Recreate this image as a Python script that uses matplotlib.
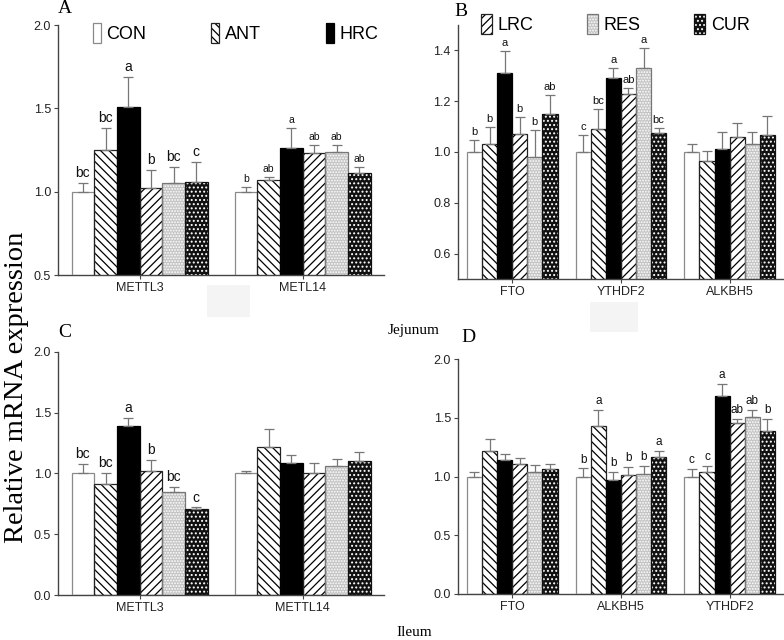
import matplotlib.pyplot as plt
import matplotlib.patches as mpatches
import numpy as np

plt.rcParams['font.family'] = ['Liberation Sans', 'DejaVu Sans']
plt.rcParams['hatch.linewidth'] = 0.9

#----データ----
groups = ['CON', 'ANT', 'HRC', 'LRC', 'RES', 'CUR']

a_genes = ['METTL3', 'METL14']
a_mean = [[1.00, 1.25, 1.51, 1.02, 1.05, 1.06],
          [1.00, 1.07, 1.26, 1.23, 1.24, 1.11]]
a_top = [[1.05, 1.38, 1.69, 1.13, 1.15, 1.18],
         [1.03, 1.09, 1.38, 1.28, 1.28, 1.15]]
a_sig = [['bc', 'bc', 'a', 'b', 'bc', 'c'],
         ['b', 'ab', 'a', 'ab', 'ab', 'ab']]

b_genes = ['FTO', 'YTHDF2', 'ALKBH5']
b_mean = [[1.00, 1.03, 1.31, 1.07, 0.98, 1.15],
          [1.00, 1.09, 1.29, 1.23, 1.33, 1.075],
          [1.00, 0.965, 1.013, 1.06, 1.03, 1.065]]
b_top = [[1.047, 1.097, 1.396, 1.138, 1.085, 1.224],
         [1.065, 1.17, 1.33, 1.25, 1.408, 1.095],
         [1.033, 1.003, 1.078, 1.115, 1.08, 1.14]]
b_sig = [['b', 'b', 'a', 'b', 'b', 'ab'],
         ['c', 'bc', 'a', 'ab', 'a', 'bc'],
         ['', '', '', '', '', '']]

c_genes = ['METTL3', 'METTL14']
c_mean = [[1.00, 0.91, 1.39, 1.02, 0.85, 0.705],
          [1.00, 1.22, 1.085, 1.00, 1.065, 1.10]]
c_top = [[1.075, 1.00, 1.455, 1.11, 0.885, 0.72],
         [1.02, 1.365, 1.15, 1.085, 1.12, 1.175]]
c_sig = [['bc', 'bc', 'a', 'b', 'bc', 'c'],
         ['', '', '', '', '', '']]

d_genes = ['FTO', 'ALKBH5', 'YTHDF2']
d_mean = [[1.00, 1.22, 1.14, 1.11, 1.04, 1.065],
          [1.00, 1.43, 0.97, 1.01, 1.02, 1.17],
          [1.00, 1.04, 1.69, 1.46, 1.51, 1.39]]
d_top = [[1.035, 1.32, 1.19, 1.16, 1.10, 1.11],
         [1.07, 1.57, 1.04, 1.08, 1.09, 1.215],
         [1.065, 1.09, 1.79, 1.49, 1.565, 1.49]]
d_sig = [['', '', '', '', '', ''],
         ['b', 'a', 'b', 'b', 'b', 'a'],
         ['c', 'c', 'a', 'ab', 'ab', 'b']]

#----スタイル (face, hatch, hatch色, 枠色)----
styles = {
    'CON': ('white', None, 'white', '#8a8a8a'),
    'ANT': ('white', '\\\\\\\\', 'black', '#222222'),
    'HRC': ('black', None, 'black', 'black'),
    'LRC': ('white', '////', 'black', '#222222'),
    'RES': ('#c4c4c4', '......', 'white', '#777777'),
    'CUR': ('#111111', '....', 'white', '#111111'),
}

W = 0.139  # 棒の幅


def draw_panel(ax, genes, mean, top, sig, ylim, yticks, sig_size):
    x = np.arange(len(genes))
    for k, g in enumerate(groups):
        face, hatch, hcol, ecol = styles[g]
        xs = x + (k - 2.5) * W
        vals = [m[k] for m in mean]
        tops = [t[k] for t in top]
        # 塗り+ハッチ
        ax.bar(xs, vals, W, bottom=0, color=face, hatch=hatch,
               edgecolor=hcol, linewidth=0, zorder=2)
        # 枠
        ax.bar(xs, vals, W, fill=False, edgecolor=ecol, linewidth=0.9, zorder=3)
        # 上側だけのエラーバー
        err = np.array(tops) - np.array(vals)
        ax.errorbar(xs, vals, yerr=[np.zeros_like(err), err], fmt='none',
                    ecolor='#777777', elinewidth=0.9, capsize=3.5, capthick=0.9, zorder=4)
        for xi, t, s in zip(xs, tops, [sg[k] for sg in sig]):
            if s:
                ax.text(xi, t + 0.012 * (ylim[1] - ylim[0]), s, ha='center', va='bottom',
                        fontsize=sig_size, color='#111111')
    ax.set_xlim(-0.5, len(genes) - 0.5)
    ax.set_ylim(*ylim)
    ax.set_yticks(yticks)
    ax.set_yticklabels(['%.1f' % v for v in yticks])
    ax.set_xticks(x)
    ax.set_xticklabels(genes)
    for sp in ['top', 'right']:
        ax.spines[sp].set_visible(False)
    for sp in ['left', 'bottom']:
        ax.spines[sp].set_color('#444444')
        ax.spines[sp].set_linewidth(1.0)
    ax.tick_params(axis='both', labelsize=9, length=3, width=0.8, color='#444444',
                   labelcolor='#222222', pad=2)


def legend_handles(names):
    hs = []
    for g in names:
        face, hatch, hcol, ecol = styles[g]
        p1 = mpatches.Rectangle((0, 0), 1, 1, facecolor=face, hatch=hatch,
                                edgecolor=hcol, linewidth=0)
        p2 = mpatches.Rectangle((0, 0), 1, 1, fill=False, edgecolor=ecol, linewidth=0.9)
        hs.append((p1, p2))
    return hs


fig = plt.figure(figsize=(7.84, 6.4), dpi=100)

axA = fig.add_axes([0.074, 0.5703, 0.416, 0.3906])
axB = fig.add_axes([0.584, 0.564, 0.416, 0.397])
axC = fig.add_axes([0.074, 0.0703, 0.416, 0.380])
axD = fig.add_axes([0.584, 0.0719, 0.416, 0.367])

draw_panel(axA, a_genes, a_mean, a_top, a_sig, (0.5, 2.0), [0.5, 1.0, 1.5, 2.0], 10)
# METL14側の文字は小さめ
for t in axA.texts:
    if t.get_position()[0] > 0.5:
        t.set_fontsize(7.5)
draw_panel(axB, b_genes, b_mean, b_top, b_sig, (0.5, 1.5), [0.6, 0.8, 1.0, 1.2, 1.4], 8)
draw_panel(axC, c_genes, c_mean, c_top, c_sig, (0.0, 2.0), [0.0, 0.5, 1.0, 1.5, 2.0], 10)
draw_panel(axD, d_genes, d_mean, d_top, d_sig, (0.0, 2.0), [0.0, 0.5, 1.0, 1.5, 2.0], 8.5)

#----凡例----
leg_kw = dict(ncol=3, frameon=False, handleheight=1.35,
              handletextpad=0.3, fontsize=13, borderaxespad=0)
fig.legend(legend_handles(groups[:3]), groups[:3], loc='upper left',
           bbox_to_anchor=(0.109, 0.975), columnspacing=3.6, handlelength=0.45, **leg_kw)
fig.legend(legend_handles(groups[3:]), groups[3:], loc='upper left',
           bbox_to_anchor=(0.604, 0.99), columnspacing=3.0, handlelength=0.6, **leg_kw)

#----パネル文字・ラベル----
serif = ['Liberation Serif', 'DejaVu Serif']
fig.text(0.083, 0.986, 'A', family=serif, fontsize=14, ha='center', va='center')
fig.text(0.588, 0.982, 'B', family=serif, fontsize=14, ha='center', va='center')
fig.text(0.083, 0.481, 'C', family=serif, fontsize=14, ha='center', va='center')
fig.text(0.597, 0.472, 'D', family=serif, fontsize=14, ha='center', va='center')
fig.text(0.527, 0.484, 'Jejunum', family=serif, fontsize=11, ha='center', va='center')
fig.text(0.528, 0.011, 'Ileum', family=serif, fontsize=11, ha='center', va='center')
fig.text(0.021, 0.395, 'Relative mRNA expression', family=serif, fontsize=20.5,
         rotation=90, ha='center', va='center')

# 画像に残る薄い四角
for (x0, y0, w, h) in [(207, 285, 43, 32), (590, 302, 48, 30)]:
    fig.add_artist(mpatches.Rectangle((x0 / 784, 1 - (y0 + h) / 640), w / 784, h / 640,
                                      transform=fig.transFigure, facecolor='#f4f4f4',
                                      edgecolor='none', zorder=0))

fig.savefig('out.png', dpi=100)
